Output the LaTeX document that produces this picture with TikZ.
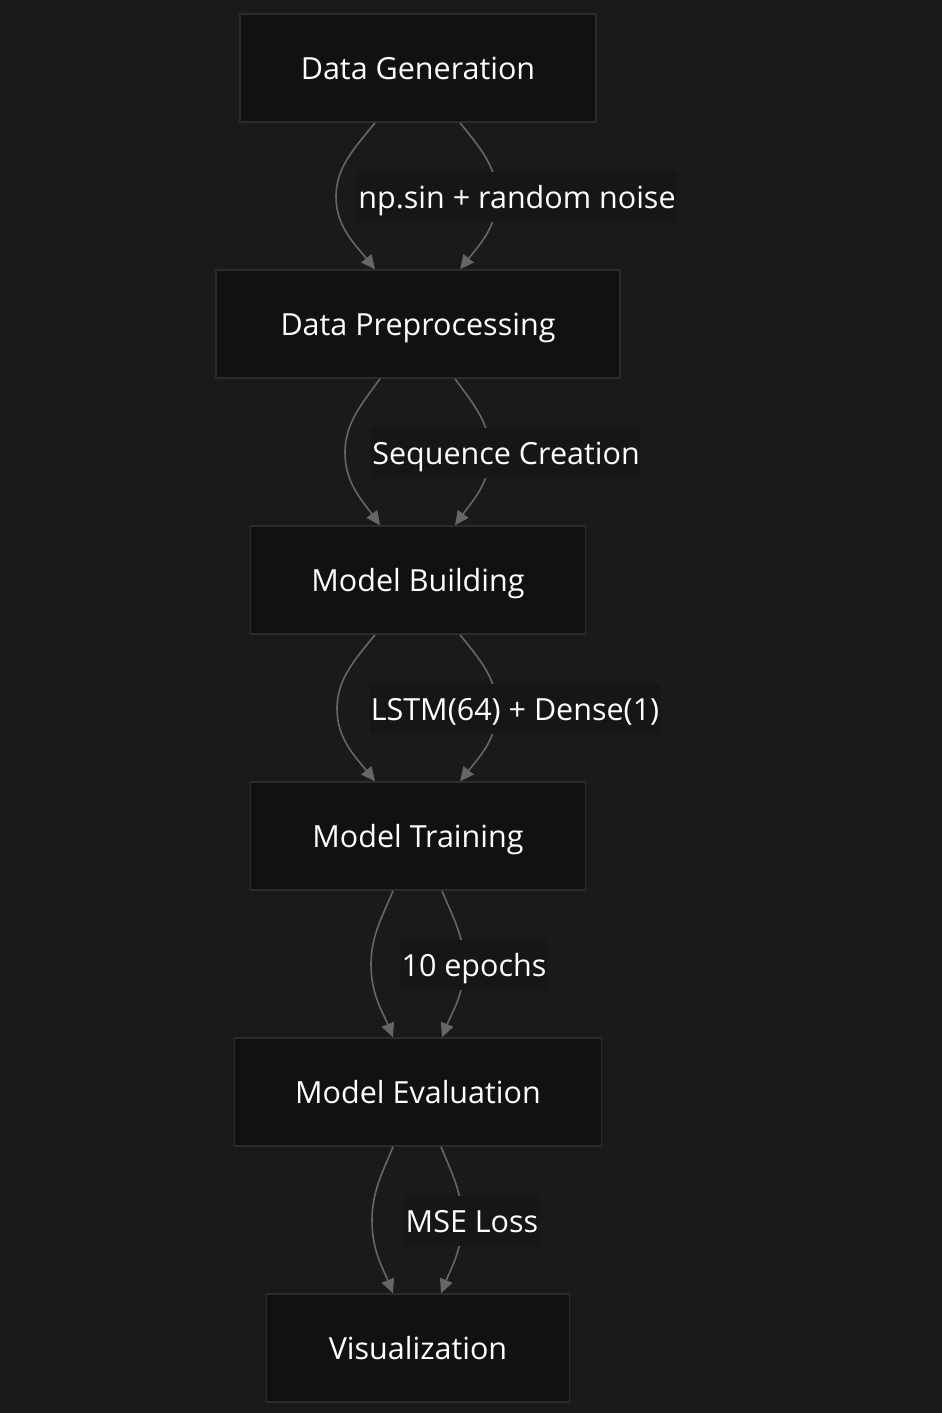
\documentclass[tikz,border=0pt]{standalone}
\usepackage{fontspec}
\setmainfont{Open Sans}
\usetikzlibrary{arrows.meta}
\definecolor{bgc}{HTML}{1A1A1A}
\definecolor{boxfill}{HTML}{111111}
\definecolor{boxborder}{HTML}{2B2B2B}
\definecolor{edgec}{HTML}{666666}
\definecolor{lblbg}{HTML}{161616}
\begin{document}
\begin{tikzpicture}[x=1pt,y=-1pt,
  box/.style={draw=boxborder, fill=boxfill, line width=1.5pt, minimum height=108pt,
    text=white, font=\fontsize{30.5}{36}\selectfont, inner sep=0pt,
    text height=23pt, text depth=0pt},
  edge/.style={draw=edgec, line width=1.6pt, -{Triangle[length=14pt,width=13pt]}},
  lbl/.style={fill=lblbg, text=white, font=\fontsize{30.5}{36}\selectfont,
    inner xsep=1pt, inner ysep=0pt, minimum height=50pt,
    text height=23pt, text depth=0pt}]
\fill[bgc] (0,0) rectangle (942,1413);
\useasboundingbox (0,0) rectangle (942,1413);

\node[box, minimum width=356pt] (g) at (418,68) {Data Generation};
\node[box, minimum width=404pt] (p) at (418,324) {Data Preprocessing};
\node[box, minimum width=335pt] (b) at (418,580) {Model Building};
\node[box, minimum width=335pt] (t) at (418,836) {Model Training};
\node[box, minimum width=367pt] (e) at (418,1092) {Model Evaluation};
\node[box, minimum width=303pt] (v) at (418,1348) {Visualization};

% edge 1
\draw[edge] ([xshift=-43pt]g.south) .. controls +(-20,25) and +(0,-30) .. ++(-39,74)
  .. controls +(0,30) and +(-20,-25) .. ([xshift=-43pt]p.north);
\draw[edge] ([xshift=42pt]g.south) .. controls +(20,25) and +(0,-30) .. ++(37,74)
  .. controls +(0,30) and +(20,-25) .. ([xshift=42pt]p.north);
% edge 2
\draw[edge] ([xshift=-38pt]p.south) .. controls +(-18,25) and +(0,-30) .. ++(-35,74)
  .. controls +(0,30) and +(-18,-25) .. ([xshift=-38pt]b.north);
\draw[edge] ([xshift=37pt]p.south) .. controls +(18,25) and +(0,-30) .. ++(35,74)
  .. controls +(0,30) and +(18,-25) .. ([xshift=37pt]b.north);
% edge 3
\draw[edge] ([xshift=-43pt]b.south) .. controls +(-20,25) and +(0,-30) .. ++(-38,74)
  .. controls +(0,30) and +(-20,-25) .. ([xshift=-43pt]t.north);
\draw[edge] ([xshift=42pt]b.south) .. controls +(20,25) and +(0,-30) .. ++(37,74)
  .. controls +(0,30) and +(20,-25) .. ([xshift=42pt]t.north);
% edge 4
\draw[edge] ([xshift=-25pt]t.south) .. controls +(-10,25) and +(0,-30) .. ++(-22,74)
  .. controls +(0,30) and +(-10,-25) .. ([xshift=-25pt]e.north);
\draw[edge] ([xshift=24pt]t.south) .. controls +(10,25) and +(0,-30) .. ++(22,74)
  .. controls +(0,30) and +(10,-25) .. ([xshift=24pt]e.north);
% edge 5
\draw[edge] ([xshift=-25pt]e.south) .. controls +(-10,25) and +(0,-30) .. ++(-21,74)
  .. controls +(0,30) and +(-10,-25) .. ([xshift=-25pt]v.north);
\draw[edge] ([xshift=23pt]e.south) .. controls +(10,25) and +(0,-30) .. ++(21,74)
  .. controls +(0,30) and +(10,-25) .. ([xshift=23pt]v.north);

% labels
\node[lbl] (l1) at (517,197) {np.sin + random noise};
\node[lbl] (l2) at (506,453) {Sequence Creation};
\node[lbl] (l3) at (515,709) {LSTM(64) + Dense(1)};
\node[lbl] (l4) at (474,965) {10 epochs};
\node[lbl] (l5) at (472,1221) {MSE Loss};
\end{tikzpicture}
\end{document}
